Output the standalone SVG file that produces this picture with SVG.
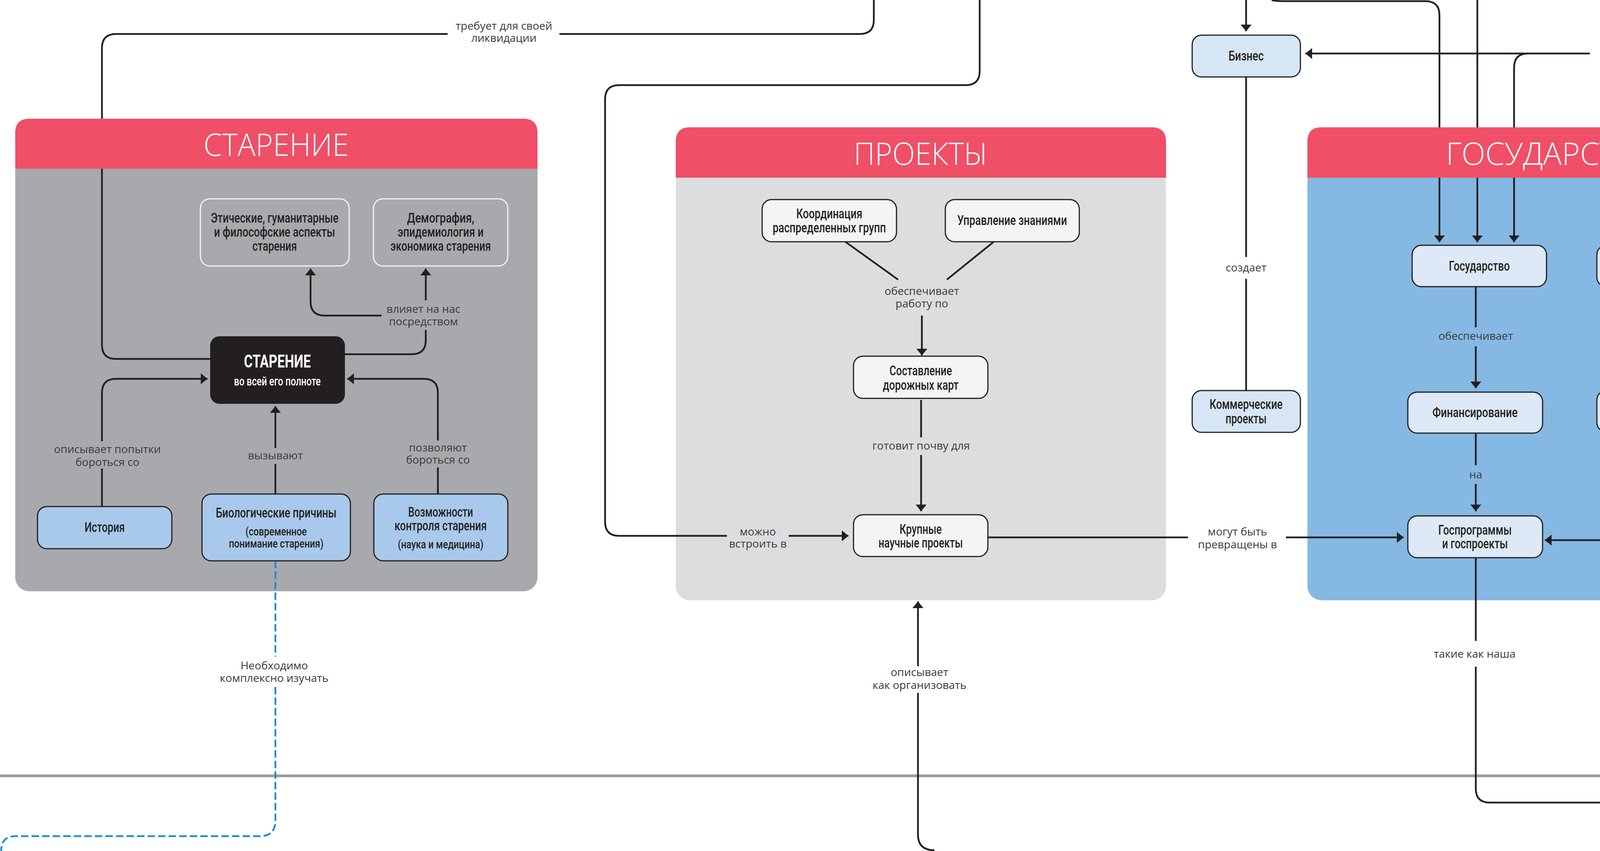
<svg xmlns="http://www.w3.org/2000/svg" width="4719" height="2179" viewBox="0 0 4719 2179" overflow="hidden">
<style>
.body-gray{fill:#a8a9ad}
.body-light{fill:#dcdddf}
.body-blue{fill:#85b8e2}
.hdr{fill:#ef4f67}
.tt{font-family:"Open Sans","Liberation Sans",sans-serif;font-weight:300;font-size:80px;fill:#ffffff;text-anchor:middle}
.nt{font-family:Roboto,"Liberation Sans",sans-serif;font-weight:500;font-size:35px;fill:#231f20;text-anchor:middle}
.ns{font-size:30px}
.lb{font-family:"Open Sans","Liberation Sans",sans-serif;font-size:28px;fill:#3a3a3a;text-anchor:middle}
.c{fill:none;stroke:#231f20;stroke-width:4.5}
.ca{fill:none;stroke:#231f20;stroke-width:4.5;marker-end:url(#ah)}
.dash{fill:none;stroke:#1a8ad4;stroke-width:4.5;stroke-dasharray:19 8}
.n-wire{fill:none;stroke:#f4f4f4;stroke-width:3}
.n-blue{fill:#a8c9ec;stroke:#231f20;stroke-width:3}
.n-white{fill:#f4f4f4;stroke:#231f20;stroke-width:3}
.n-biz{fill:#d6e6f6;stroke:#231f20;stroke-width:3}
.n-state{fill:#dde9f6;stroke:#231f20;stroke-width:3}
</style>
<defs>
<marker id="ah" markerUnits="userSpaceOnUse" markerWidth="20" markerHeight="30" refX="17" refY="15" orient="auto">
<path d="M0,1 L17,15 L0,29 Z" fill="#231f20"/>
</marker>
</defs>
<rect width="4719" height="2179" fill="#ffffff"/>
<rect id="divider" x="0" y="1983" width="4719" height="7" fill="#9b9ca0"/>

<g id="panel-bodies">
<rect class="body-gray" x="39" y="304" width="1337" height="1210" rx="36"/>
<rect class="body-light" x="1730" y="326" width="1255" height="1211" rx="36"/>
<rect class="body-blue" x="3347" y="326" width="1254" height="1211" rx="36"/>
</g>

<g id="connectors">
<path class="c" d="M538 919 H297 Q261 919 261 883 V123 Q261 87 297 87 H1146"/>
<path class="c" d="M1432 87 H2201 Q2237 87 2237 51 V0"/>
<path class="c" d="M2508 0 V182 Q2508 218 2472 218 H1585 Q1549 218 1549 254 V1336 Q1549 1372 1585 1372 H1861"/>
<path class="ca" d="M2019 1372 H2172"/>
<path class="c" d="M883 907 H1054 Q1090 907 1090 871 V845"/>
<path class="ca" d="M1090 769 V688"/>
<path class="ca" d="M977 808 H831 Q795 808 795 772 V688"/>
<path class="c" d="M261 1297 V1200"/>
<path class="ca" d="M261 1130 V1006 Q261 970 297 970 H531"/>
<path class="c" d="M705 1265 V1188"/>
<path class="ca" d="M705 1147 V1040"/>
<path class="c" d="M1121 1265 V1197"/>
<path class="ca" d="M1121 1128 V1006 Q1121 970 1085 970 H889"/>
<path class="dash" d="M705 1436 V1681"/>
<path class="dash" d="M705 1759 V2101 Q705 2141 665 2141 H40 Q3 2141 3 2179"/>
<path class="c" d="M2164 619 L2299 716"/>
<path class="c" d="M2544 619 L2424 716"/>
<path class="ca" d="M2360 808 V910"/>
<path class="c" d="M2358 1024 V1120"/>
<path class="ca" d="M2358 1165 V1309"/>
<path class="c" d="M2529 1376 H3041"/>
<path class="ca" d="M3292 1376 H3593"/>
<path class="c" d="M2392 2177 Q2350 2177 2350 2137 V1774"/>
<path class="ca" d="M2350 1706 V1540"/>
<path class="ca" d="M3190 0 V80"/>
<path class="c" d="M3190 197 V658"/>
<path class="c" d="M3190 714 V1000"/>
<path class="ca" d="M3256 0 Q3260 3 3290 3 H3649 Q3685 3 3685 39 V620"/>
<path class="ca" d="M3782 0 V620"/>
<path class="ca" d="M4070 137 H3912 Q3876 137 3876 173 V620"/>
<path class="ca" d="M3912 137 H3342"/>
<path class="c" d="M4171 0 V100"/>
<path class="c" d="M4278 134 H4690 Q4717 134 4717 161 V200"/>
<path class="c" d="M3778 734 V838"/>
<path class="ca" d="M3778 887 V994"/>
<path class="c" d="M3778 1109 V1191"/>
<path class="ca" d="M3778 1239 V1309"/>
<path class="c" d="M4249 734 V841"/>
<path class="ca" d="M4249 887 V989"/>
<path class="c" d="M4247 1106 V1191"/>
<path class="ca" d="M4247 1259 V1347 Q4247 1383 4211 1383 H3955"/>
<path class="c" d="M3778 1428 V1641"/>
<path class="c" d="M3778 1707 V2019 Q3778 2055 3814 2055 H4719"/>
</g>

<g id="connector-labels">
<text class="lb" x="1290" y="76">требует для своей</text>
<text class="lb" x="1290" y="107">ликвидации</text>
<text class="lb" x="1940" y="1371">можно</text>
<text class="lb" x="1940" y="1402">встроить в</text>
<text class="lb" x="1084" y="801">влияет на нас</text>
<text class="lb" x="1084" y="833">посредством</text>
<text class="lb" x="275" y="1160">описывает попытки</text>
<text class="lb" x="275" y="1193">бороться со</text>
<text class="lb" x="705" y="1176">вызывают</text>
<text class="lb" x="1121" y="1156">позволяют</text>
<text class="lb" x="1121" y="1187">бороться со</text>
<text class="lb" x="702" y="1714">Необходимо</text>
<text class="lb" x="702" y="1746">комплексно изучать</text>
<text class="lb" x="2360" y="755">обеспечивает</text>
<text class="lb" x="2360" y="787">работу по</text>
<text class="lb" x="2358" y="1151">готовит почву для</text>
<text class="lb" x="3168" y="1371">могут быть</text>
<text class="lb" x="3168" y="1404">превращены в</text>
<text class="lb" x="2354" y="1731">описывает</text>
<text class="lb" x="2354" y="1764">как организовать</text>
<text class="lb" x="3190" y="695">создает</text>
<text class="lb" x="4172" y="140">влияет на</text>
<text class="lb" x="3778" y="870">обеспечивает</text>
<text class="lb" x="3778" y="1225">на</text>
<text class="lb" x="4249" y="873">включает</text>
<text class="lb" x="4247" y="1218">помогает</text>
<text class="lb" x="4247" y="1251">запустить</text>
<text class="lb" x="3775" y="1684">такие как наша</text>
</g>

<g id="panel-starenie-header">
<path class="hdr" d="M39 432 V340 Q39 304 75 304 H1340 Q1376 304 1376 340 V432 Z"/>
<text class="tt" x="707" y="399" textLength="372" lengthAdjust="spacingAndGlyphs">СТАРЕНИЕ</text>
</g>
<g id="panel-proekty-header">
<path class="hdr" d="M1730 455 V362 Q1730 326 1766 326 H2949 Q2985 326 2985 362 V455 Z"/>
<text class="tt" x="2357" y="422" textLength="343" lengthAdjust="spacingAndGlyphs">ПРОЕКТЫ</text>
</g>
<g id="panel-gosudarstvo-header">
<path class="hdr" d="M3347 455 V362 Q3347 326 3383 326 H4565 Q4601 326 4601 362 V455 Z"/>
<text class="tt" x="3974" y="422" textLength="545" lengthAdjust="spacingAndGlyphs">ГОСУДАРСТВО</text>
</g>

<g id="node-eticheskie">
<rect class="n-wire" x="513" y="509" width="381" height="172" rx="24"/>
<text class="nt" x="703" y="570" textLength="327" lengthAdjust="spacingAndGlyphs">Этические, гуманитарные</text>
<text class="nt" x="703" y="606" textLength="310" lengthAdjust="spacingAndGlyphs">и философские аспекты</text>
<text class="nt" x="703" y="642" textLength="114" lengthAdjust="spacingAndGlyphs">старения</text>
</g>
<g id="node-demografiya">
<rect class="n-wire" x="956" y="509" width="344" height="172" rx="24"/>
<text class="nt" x="1128" y="570" textLength="172" lengthAdjust="spacingAndGlyphs">Демография,</text>
<text class="nt" x="1128" y="606" textLength="220" lengthAdjust="spacingAndGlyphs">эпидемиология и</text>
<text class="nt" x="1128" y="642" textLength="257" lengthAdjust="spacingAndGlyphs">экономика старения</text>
</g>
<g id="node-starenie">
<rect x="538" y="861" width="345" height="173" rx="24" fill="#231f20"/>
<text class="nt" x="710" y="941" textLength="171" lengthAdjust="spacingAndGlyphs" style="fill:#ffffff;font-weight:bold;font-size:46px">СТАРЕНИЕ</text>
<text class="nt" x="710" y="987" textLength="222" lengthAdjust="spacingAndGlyphs" style="fill:#ffffff;font-size:31px">во всей его полноте</text>
</g>
<g id="node-istoriya">
<rect class="n-blue" x="96" y="1297" width="344" height="108" rx="24"/>
<text class="nt" x="268" y="1362" textLength="103" lengthAdjust="spacingAndGlyphs">История</text>
</g>
<g id="node-biologicheskie">
<rect class="n-blue" x="517" y="1265" width="380" height="171" rx="24"/>
<text class="nt" x="707" y="1325" textLength="309" lengthAdjust="spacingAndGlyphs">Биологические причины</text>
<text class="nt ns" x="707" y="1371" textLength="157" lengthAdjust="spacingAndGlyphs">(современное</text>
<text class="nt ns" x="707" y="1402" textLength="242" lengthAdjust="spacingAndGlyphs">понимание старения)</text>
</g>
<g id="node-vozmozhnosti">
<rect class="n-blue" x="957" y="1265" width="343" height="171" rx="24"/>
<text class="nt" x="1128" y="1323" textLength="166" lengthAdjust="spacingAndGlyphs">Возможности</text>
<text class="nt" x="1128" y="1358" textLength="236" lengthAdjust="spacingAndGlyphs">контроля старения</text>
<text class="nt ns" x="1128" y="1404" textLength="219" lengthAdjust="spacingAndGlyphs">(наука и медицина)</text>
</g>
<g id="node-koordinaciya">
<rect class="n-white" x="1951" y="511" width="344" height="108" rx="24"/>
<text class="nt" x="2123" y="559" textLength="169" lengthAdjust="spacingAndGlyphs">Координация</text>
<text class="nt" x="2123" y="595" textLength="290" lengthAdjust="spacingAndGlyphs">распределенных групп</text>
</g>
<g id="node-upravlenie">
<rect class="n-white" x="2420" y="511" width="343" height="108" rx="24"/>
<text class="nt" x="2591" y="576" textLength="281" lengthAdjust="spacingAndGlyphs">Управление знаниями</text>
</g>
<g id="node-sostavlenie">
<rect class="n-white" x="2185" y="912" width="344" height="108" rx="24"/>
<text class="nt" x="2357" y="961" textLength="160" lengthAdjust="spacingAndGlyphs">Составление</text>
<text class="nt" x="2357" y="998" textLength="194" lengthAdjust="spacingAndGlyphs">дорожных карт</text>
</g>
<g id="node-krupnye">
<rect class="n-white" x="2185" y="1318" width="344" height="107" rx="24"/>
<text class="nt" x="2357" y="1367" textLength="108" lengthAdjust="spacingAndGlyphs">Крупные</text>
<text class="nt" x="2357" y="1402" textLength="216" lengthAdjust="spacingAndGlyphs">научные проекты</text>
</g>
<g id="node-biznes">
<rect class="n-biz" x="3052" y="90" width="277" height="107" rx="24"/>
<text class="nt" x="3190" y="155" textLength="90" lengthAdjust="spacingAndGlyphs">Бизнес</text>
</g>
<g id="node-kommercheskie">
<rect class="n-biz" x="3052" y="1000" width="277" height="107" rx="24"/>
<text class="nt" x="3190" y="1047" textLength="187" lengthAdjust="spacingAndGlyphs">Коммерческие</text>
<text class="nt" x="3190" y="1084" textLength="105" lengthAdjust="spacingAndGlyphs">проекты</text>
</g>
<g id="node-gosudarstvo">
<rect class="n-state" x="3615" y="628" width="344" height="106" rx="24"/>
<text class="nt" x="3787" y="693" textLength="156" lengthAdjust="spacingAndGlyphs">Государство</text>
</g>
<g id="node-borba">
<rect class="n-state" x="4088" y="628" width="344" height="106" rx="24"/>
<text class="nt" x="4260" y="675" textLength="269" lengthAdjust="spacingAndGlyphs">Борьба со старением</text>
<text class="nt" x="4260" y="709" textLength="137" lengthAdjust="spacingAndGlyphs">в политике</text>
</g>
<g id="node-finansirovanie">
<rect class="n-state" x="3604" y="1004" width="345" height="105" rx="24"/>
<text class="nt" x="3776" y="1068" textLength="218" lengthAdjust="spacingAndGlyphs">Финансирование</text>
</g>
<g id="node-lobbirovanie">
<rect class="n-state" x="4088" y="1000" width="344" height="106" rx="24"/>
<text class="nt" x="4260" y="1047" textLength="284" lengthAdjust="spacingAndGlyphs">Лоббирование борьбы</text>
<text class="nt" x="4260" y="1082" textLength="169" lengthAdjust="spacingAndGlyphs">со старением</text>
</g>
<g id="node-gosprogrammy">
<rect class="n-state" x="3604" y="1321" width="345" height="107" rx="24"/>
<text class="nt" x="3776" y="1369" textLength="188" lengthAdjust="spacingAndGlyphs">Госпрограммы</text>
<text class="nt" x="3776" y="1404" textLength="168" lengthAdjust="spacingAndGlyphs">и госпроекты</text>
</g>
</svg>
